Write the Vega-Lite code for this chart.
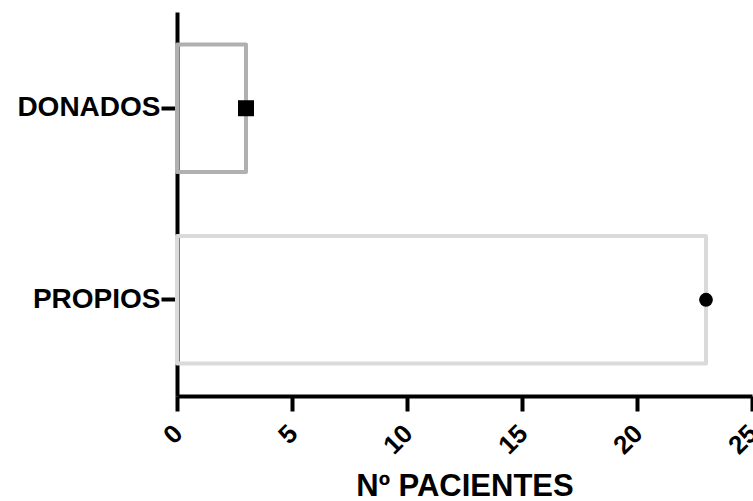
{
  "$schema": "https://vega.github.io/schema/vega-lite/v6.json",
  "width": 575,
  "height": 384,
  "autosize": {"type": "none"},
  "padding": {"left": 177, "top": 12, "right": 1, "bottom": 105},
  "background": "white",
  "config": {
    "view": {"stroke": null},
    "axis": {"grid": false, "domainColor": "black", "domainWidth": 4, "tickColor": "black", "tickWidth": 4, "labelFont": "Liberation Sans", "labelFontWeight": "bold", "labelColor": "black", "titleFont": "Liberation Sans", "titleFontWeight": "bold", "titleColor": "black"}
  },
  "data": {
    "values": [
      {"grupo": "DONADOS", "pacientes": 3},
      {"grupo": "PROPIOS", "pacientes": 23}
    ]
  },
  "encoding": {
    "y": {
      "field": "grupo",
      "type": "nominal",
      "sort": ["DONADOS", "PROPIOS"],
      "scale": {"paddingInner": 0.335, "paddingOuter": 0.17},
      "axis": {"title": null, "labelFontSize": 28, "tickSize": 16, "labelPadding": 1}
    }
  },
  "layer": [
    {
      "mark": {"type": "bar", "fillOpacity": 0, "strokeWidth": 4, "strokeJoin": "round"},
      "encoding": {
        "x": {
          "field": "pacientes",
          "type": "quantitative",
          "scale": {"domain": [0, 25], "nice": false},
          "axis": {"title": "Nº PACIENTES", "values": [0, 5, 10, 15, 20, 25], "labelAngle": -45, "labelFontSize": 26, "tickSize": 15, "labelPadding": 9, "labelOffset": -8, "titleFontSize": 31, "titleBaseline": "alphabetic", "titleY": 99, "titleAnchor": "middle"}
        },
        "stroke": {
          "field": "grupo",
          "type": "nominal",
          "scale": {"domain": ["DONADOS", "PROPIOS"], "range": ["#b0b0b0", "#dadada"]},
          "legend": null
        }
      }
    },
    {
      "mark": {"type": "point", "filled": true, "color": "black", "opacity": 1},
      "encoding": {
        "x": {"field": "pacientes", "type": "quantitative"},
        "shape": {
          "field": "grupo",
          "type": "nominal",
          "scale": {"domain": ["DONADOS", "PROPIOS"], "range": ["square", "circle"]},
          "legend": null
        },
        "size": {
          "field": "grupo",
          "type": "nominal",
          "scale": {"domain": ["DONADOS", "PROPIOS"], "range": [256, 190]},
          "legend": null
        }
      }
    }
  ]
}
